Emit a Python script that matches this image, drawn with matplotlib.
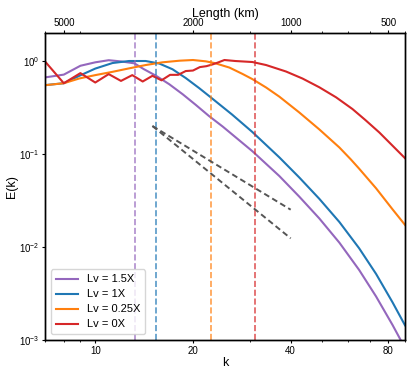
import numpy as np
import matplotlib.pyplot as plt
from matplotlib.ticker import NullFormatter, FixedLocator, FixedFormatter, NullLocator

plt.rcParams['font.family'] = ['Liberation Sans', 'DejaVu Sans']
plt.rcParams['mathtext.fontset'] = 'custom'
plt.rcParams['mathtext.rm'] = 'Liberation Sans'
plt.rcParams['mathtext.it'] = 'Liberation Sans:italic'

# spectra
k_purple = [7, 8, 9, 10, 11, 12, 13.2, 14.1, 15.4, 16.9, 18.6, 20.4, 22.4, 24.7,
            30.5, 36.9, 42.5, 49, 56.5, 65, 73.3, 82.4, 90]
E_purple = [0.666, 0.714, 0.889, 0.968, 1.02, 0.99, 0.944, 0.819, 0.693, 0.563,
            0.4386, 0.3375, 0.2563, 0.1972, 0.107, 0.058, 0.03485, 0.0203,
            0.01114, 0.00567, 0.00294, 0.00145, 0.00082]

k_blue = [7, 8, 8.93, 10, 11.3, 12.7, 14.3, 15.75, 17.3, 19.0, 20.9, 22.7, 26.4,
          30.5, 36.9, 42.5, 49, 56.5, 65, 73.3, 82.4, 90]
E_blue = [0.55, 0.577, 0.693, 0.829, 0.951, 1.0, 1.0, 0.939, 0.815, 0.656,
          0.511, 0.406, 0.2655, 0.172, 0.0921, 0.056, 0.033, 0.01858, 0.0097,
          0.00514, 0.00254, 0.00144]

k_orange = [7, 8, 8.93, 10, 11.3, 12.7, 14.3, 16.1, 18.2, 20, 21.9, 23.3, 25.9,
            28.4, 30.5, 33.6, 36.9, 42.5, 49, 56.5, 61.3, 65, 73.3, 82.4, 90]
E_orange = [0.549, 0.577, 0.649, 0.705, 0.765, 0.833, 0.905, 0.968, 1.008, 1.025,
            0.992, 0.951, 0.850, 0.727, 0.638, 0.519, 0.414, 0.28, 0.184,
            0.1176, 0.0874, 0.0696, 0.0428, 0.0254, 0.0173]

k_red = [7, 8, 9, 10, 11, 12, 13, 14, 15, 16, 17, 18, 19, 20, 21, 22, 23, 24, 25,
         27, 30.5, 33.6, 38.7, 43.5, 49, 55.2, 62, 68, 75, 90]
E_red = [0.99, 0.577, 0.741, 0.587, 0.723, 0.611, 0.705, 0.602, 0.693, 0.62,
         0.71, 0.71, 0.78, 0.79, 0.86, 0.88, 0.92, 0.97, 1.025, 1.0, 0.975, 0.905,
         0.771, 0.648, 0.522, 0.407, 0.3045, 0.2314, 0.1706, 0.0902]

labels = ['Lv = 1.5X', 'Lv = 1X', 'Lv = 0.25X', 'Lv = 0X']
colors = ['#9467bd', '#1f77b4', '#ff7f0e', '#d62728']
k_cut = [13.3, 15.4, 22.8, 31.0]  # dashed vertical markers

# reference slopes
k_ref = [15, 40]
E_ref_a = [0.2, 0.0252]
E_ref_b = [0.2, 0.0124]

top_k = [8, 20, 40, 80]
top_labels = ['5000', '2000', '1000', '500']

fig = plt.figure(figsize=(4.15, 3.76), dpi=100)
ax = fig.add_axes([0.1084, 0.0957, 0.8675, 0.8165])

series = [(k_purple, E_purple), (k_blue, E_blue), (k_orange, E_orange), (k_red, E_red)]
for (kk, ee), c, lab in zip(series, colors, labels):
    ax.plot(kk, ee, color=c, lw=1.5, label=lab)

for kc, c in zip(k_cut, colors):
    ax.axvline(kc, color=c, ls='--', lw=1.2, alpha=0.75)

ax.plot(k_ref, E_ref_a, ls=(0, (3, 1.8)), color='#555555', lw=1.4)
ax.plot(k_ref, E_ref_b, ls=(0, (3, 1.8)), color='#555555', lw=1.4)

ax.set_xscale('log')
ax.set_yscale('log')
ax.set_xlim(7, 90)
ax.set_ylim(1e-3, 2)

ax.xaxis.set_major_locator(FixedLocator([10, 20, 40, 80]))
ax.xaxis.set_major_formatter(FixedFormatter(['10', '20', '40', '80']))
ax.xaxis.set_minor_formatter(NullFormatter())
ax.yaxis.set_minor_locator(NullLocator())
ax.tick_params(axis='both', which='major', labelsize=7, length=2.5, width=0.8, pad=1.5)
ax.tick_params(axis='x', which='minor', length=1.5, width=0.6)

ax.set_xlabel('k', fontsize=9, labelpad=1)
ax.set_ylabel('E(k)', fontsize=9, labelpad=1)

top = ax.twiny()
top.set_xscale('log')
top.set_xlim(ax.get_xlim())
top.xaxis.set_major_locator(FixedLocator(top_k))
top.xaxis.set_major_formatter(FixedFormatter(top_labels))
top.xaxis.set_minor_formatter(NullFormatter())
top.tick_params(axis='x', which='major', labelsize=7, length=2.5, width=0.8, pad=1.0)
top.tick_params(axis='x', which='minor', length=1.5, width=0.6)
top.set_xlabel('Length (km)', fontsize=9, labelpad=1)

for a in (ax, top):
    for s in a.spines.values():
        s.set_linewidth(1.0)

leg = ax.legend(loc='lower left', fontsize=8, frameon=True, borderpad=0.45,
                labelspacing=0.45, handlelength=2.0)
leg.get_frame().set_edgecolor('#cccccc')

fig.savefig('out.png', dpi=100)
